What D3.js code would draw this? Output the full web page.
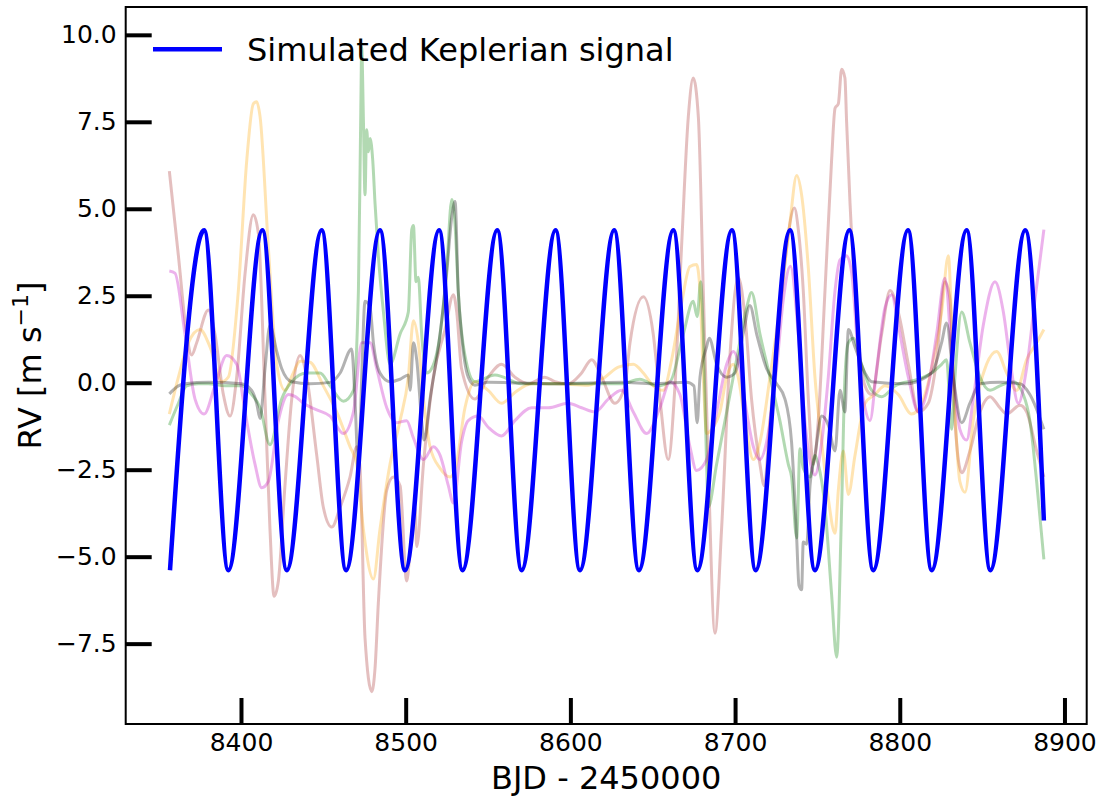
<!DOCTYPE html>
<html>
<head>
<meta charset="utf-8">
<script src="https://cdn.jsdelivr.net/npm/d3@7"></script>
<style>
  body { margin: 0; background: #fff; }
  text { font-family: "DejaVu Sans", sans-serif; }
</style>
</head>
<body>
<div id="rvchart"></div>
<script>
// ---- data (BJD - 2450000, RV in m/s) ----
var keplerDays = [8356.9, 8377.6, 8392.3, 8413.0, 8427.8, 8449.0, 8463.8, 8484.4, 8499.6, 8520.3,
                  8534.5, 8555.6, 8570.4, 8591.0, 8605.8, 8626.6, 8641.6, 8662.5, 8677.1, 8698.1,
                  8712.5, 8733.4, 8748.5, 8769.4, 8783.9, 8805.0, 8819.4, 8840.6, 8855.0, 8876.2, 8887.5];
var keplerRV = [-5.39, 4.38, -5.39, 4.38, -5.39, 4.38, -5.39, 4.38, -5.39, 4.38,
                -5.39, 4.38, -5.39, 4.38, -5.39, 4.38, -5.39, 4.38, -5.39, 4.38,
                -5.39, 4.38, -5.39, 4.38, -5.39, 4.38, -5.39, 4.38, -5.39, 4.38, -3.96];

var brownGP = [[8356.5,6.08],[8362.0,3.65],[8367.0,1.40],[8370.1,0.80],[8373.1,1.15],[8380.2,2.09],[8384.2,1.40],[8389.3,-0.34],[8393.4,-0.96],[8397.4,0.16],[8402.5,3.15],[8407.5,4.83],[8410.6,4.27],[8414.6,-0.47],[8417.6,-4.21],[8420.1,-6.14],[8422.7,-5.70],[8426.7,-2.96],[8430.8,-0.47],[8435.9,0.78],[8439.9,0.16],[8446.0,-2.09],[8450.0,-3.58],[8455.1,-4.15],[8460.2,-3.58],[8466.2,-2.71],[8470.3,-1.84],[8472.3,-2.46],[8475.3,-7.33],[8479.4,-8.88],[8481.4,-8.20],[8483.4,-6.33],[8488.5,-3.09],[8492.5,-2.71],[8496.6,-2.96],[8500.6,-5.70],[8502.7,-4.83],[8505.7,-3.58],[8506.7,-4.71],[8510.8,-2.34],[8516.8,0.16],[8523.9,1.53],[8529.0,2.53],[8531.0,2.03],[8533.9,0.41],[8542.0,-0.47],[8550.1,0.16],[8558.2,0.53],[8566.3,0.16],[8574.4,-0.03],[8584.5,0.16],[8590.6,0.03],[8598.7,-0.03],[8606.8,0.28],[8612.9,0.66],[8619.0,0.16],[8627.0,-0.59],[8633.1,-0.09],[8636.2,1.15],[8644.3,2.47],[8650.3,1.40],[8654.4,-0.47],[8659.4,-2.21],[8663.5,-0.09],[8667.5,3.90],[8671.6,7.64],[8674.6,8.76],[8677.7,7.64],[8680.7,2.65],[8683.7,-2.34],[8687.8,-7.20],[8691.8,-4.21],[8696.9,0.78],[8701.9,3.03],[8706.0,1.90],[8710.0,-0.47],[8715.1,-2.34],[8717.7,-2.96],[8721.2,-1.09],[8726.2,1.40],[8731.3,3.90],[8736.0,5.02],[8738.4,4.40],[8741.4,2.65],[8744.5,-0.47],[8747.5,-2.34],[8750.5,-1.09],[8754.6,2.65],[8758.6,6.39],[8760.7,7.89],[8762.7,8.02],[8764.7,9.01],[8766.7,8.76],[8767.7,7.52],[8769.8,5.15],[8772.8,2.65],[8775.8,0.78],[8778.9,-0.09],[8782.9,-0.34],[8789.0,1.40],[8794.1,2.65],[8799.1,2.03],[8805.2,0.53],[8811.3,-0.84],[8817.3,-0.59],[8822.4,0.66],[8827.4,2.90],[8830.5,2.40],[8833.5,-1.09],[8837.6,-2.59],[8842.6,-1.96],[8848.7,-0.84],[8854.8,-0.40],[8860.8,-0.72],[8864.9,-0.90],[8873.0,-0.65],[8877.0,-0.84],[8883.1,-1.96],[8887.5,-2.71]];

var orangeGP = [[8356.5,-0.90],[8362.0,0.16],[8368.1,1.15],[8375.1,1.53],[8381.2,1.03],[8388.3,0.03],[8392.3,0.16],[8398.4,2.65],[8403.5,6.39],[8407.5,8.02],[8409.5,8.08],[8411.6,7.64],[8416.6,3.90],[8421.7,0.53],[8426.7,-0.22],[8431.0,0.20],[8435.9,0.62],[8441.9,0.59],[8450.0,-0.09],[8458.1,-0.84],[8466.2,-1.84],[8470.3,-2.34],[8474.3,-4.21],[8480.4,-5.64],[8484.4,-4.21],[8490.5,-2.34],[8496.6,-1.09],[8501.6,0.16],[8504.7,1.78],[8507.7,1.15],[8510.8,-0.47],[8514.8,-1.84],[8520.9,-2.46],[8527.0,-2.71],[8530.5,-2.40],[8536.0,-0.72],[8542.0,0.03],[8550.1,-0.22],[8558.2,-0.59],[8566.3,-0.28],[8576.5,-0.03],[8590.6,-0.03],[8610.9,-0.07],[8621.0,0.16],[8629.1,0.45],[8638.2,0.53],[8644.3,0.28],[8650.3,-0.09],[8656.4,-0.22],[8661.5,0.66],[8667.5,2.28],[8672.6,3.34],[8676.6,3.40],[8678.7,2.65],[8680.7,0.16],[8682.7,-1.46],[8685.8,-1.34],[8690.8,-0.84],[8694.9,0.16],[8698.9,0.53],[8701.9,0.16],[8706.0,-1.09],[8711.1,-2.21],[8715.1,-1.71],[8721.2,0.16],[8727.2,2.20],[8733.3,4.60],[8737.4,5.96],[8740.4,5.40],[8744.5,3.28],[8748.5,0.16],[8752.6,-1.71],[8756.6,-3.33],[8760.7,-4.33],[8762.7,-3.09],[8765.7,-1.96],[8768.8,-3.21],[8772.8,-2.09],[8778.9,-0.59],[8784.9,-0.34],[8791.0,-0.09],[8799.1,-0.34],[8807.2,-0.90],[8813.3,-0.59],[8819.3,0.41],[8825.4,2.03],[8829.5,3.65],[8832.5,0.16],[8836.5,-2.84],[8839.6,-3.15],[8844.6,-1.09],[8852.7,0.53],[8858.8,0.90],[8864.9,0.28],[8870.9,-0.22],[8877.0,0.66],[8883.1,1.15],[8887.5,1.53]];

var greenGP = [[8356.5,-1.22],[8362.0,-0.59],[8367.0,-0.09],[8374.1,-0.03],[8380.2,-0.03],[8390.3,-0.09],[8400.4,-0.09],[8406.5,-0.34],[8411.6,-0.72],[8417.6,-1.78],[8424.7,-0.47],[8430.8,0.03],[8439.9,0.28],[8448.0,0.28],[8454.1,-0.09],[8462.2,-0.53],[8468.3,-0.22],[8471.3,2.65],[8472.7,7.64],[8473.3,9.64],[8474.3,7.64],[8475.3,5.40],[8476.3,7.27],[8477.4,6.64],[8478.4,7.02],[8480.0,6.39],[8481.4,5.15],[8483.4,3.65],[8486.5,2.03],[8490.5,0.53],[8496.6,1.40],[8501.6,2.03],[8503.7,4.40],[8504.7,4.52],[8506.3,2.90],[8507.7,3.03],[8509.7,1.40],[8512.8,0.28],[8515.8,0.41],[8520.9,1.40],[8524.9,3.28],[8528.0,5.27],[8530.0,4.52],[8531.9,2.65],[8536.0,0.78],[8542.0,0.03],[8554.2,0.22],[8570.4,-0.03],[8590.6,-0.03],[8610.9,-0.03],[8631.1,-0.03],[8642.2,0.10],[8652.4,-0.09],[8660.5,0.03],[8668.6,1.40],[8674.6,2.34],[8677.0,1.90],[8679.1,2.90],[8680.7,1.40],[8682.7,-2.34],[8683.7,-3.58],[8688.8,-2.34],[8694.9,-0.84],[8700.9,0.66],[8707.0,2.15],[8710.0,2.59],[8715.1,1.40],[8721.2,0.16],[8727.2,-1.09],[8732.3,-2.34],[8734.3,-2.71],[8737.4,-4.46],[8739.4,-1.90],[8741.4,-2.46],[8745.5,-2.71],[8748.5,-2.09],[8750.5,-2.34],[8754.6,-3.58],[8758.6,-6.08],[8761.7,-7.89],[8764.7,-3.58],[8766.7,0.16],[8768.8,1.15],[8771.8,1.28],[8776.8,0.53],[8782.9,-0.22],[8789.0,-0.40],[8797.1,-0.09],[8811.3,0.10],[8819.3,0.28],[8825.4,0.53],[8828.4,0.66],[8831.5,-1.34],[8833.5,0.16],[8837.6,2.03],[8842.6,1.15],[8848.7,0.16],[8854.8,-0.22],[8860.8,-0.09],[8868.9,0.03],[8875.0,-0.34],[8879.0,-1.09],[8883.1,-2.84],[8887.5,-5.08]];

var grayGP = [[8356.5,-0.32],[8362.0,-0.09],[8366.0,-0.03],[8380.2,0.01],[8400.4,-0.03],[8406.5,-0.22],[8409.5,-0.59],[8411.6,-1.03],[8414.6,0.41],[8417.6,1.65],[8421.7,0.90],[8424.7,0.41],[8430.8,0.03],[8441.9,-0.03],[8454.1,0.01],[8460.2,0.28],[8467.2,0.97],[8469.3,-0.59],[8471.3,-2.52],[8473.3,0.16],[8475.3,2.34],[8478.4,2.15],[8480.4,1.15],[8484.4,0.28],[8490.5,0.03],[8496.6,0.10],[8501.6,0.22],[8502.7,-0.22],[8504.7,1.15],[8506.7,0.66],[8509.7,-1.09],[8511.2,-1.65],[8514.8,-0.47],[8520.9,1.40],[8524.9,3.15],[8528.0,4.77],[8530.0,5.21],[8531.9,2.65],[8533.9,1.40],[8538.0,0.16],[8542.0,-0.07],[8550.1,0.01],[8590.6,-0.03],[8631.1,0.01],[8650.3,-0.03],[8670.6,0.01],[8675.0,-0.09],[8677.0,-1.15],[8678.7,0.16],[8682.7,1.03],[8684.3,1.28],[8688.8,0.53],[8694.9,0.16],[8699.9,0.28],[8704.9,1.40],[8709.0,2.22],[8713.1,1.40],[8719.1,0.41],[8725.2,-0.03],[8730.3,-0.47],[8734.3,-1.71],[8737.4,-4.46],[8738.8,-5.83],[8740.4,-5.95],[8741.4,-4.58],[8743.5,-4.64],[8745.5,-2.96],[8748.5,-2.09],[8752.6,-0.96],[8756.6,-1.22],[8760.7,-1.96],[8763.7,-0.22],[8766.7,-0.84],[8768.8,1.53],[8772.8,1.03],[8778.9,0.28],[8782.9,0.03],[8803.2,-0.03],[8819.3,0.28],[8825.4,1.15],[8828.4,1.72],[8832.5,0.16],[8837.6,-1.15],[8842.6,-0.59],[8848.7,-0.03],[8860.8,0.01],[8873.0,-0.03],[8879.0,-0.34],[8887.5,-1.34]];

var violetGP = [[8356.5,3.21],[8359.9,3.15],[8366.0,1.40],[8372.1,-0.47],[8377.6,-0.90],[8384.2,-0.09],[8391.3,0.78],[8397.4,0.53],[8402.5,-0.84],[8408.5,-2.34],[8412.6,-3.02],[8416.6,-2.84],[8422.7,-1.09],[8428.8,-0.34],[8433.0,-0.40],[8437.9,-0.59],[8446.0,-0.78],[8454.1,-0.96],[8462.2,-1.46],[8468.3,-0.84],[8473.3,1.15],[8478.4,1.15],[8482.4,0.41],[8488.5,-0.72],[8494.6,-1.15],[8500.6,-1.09],[8504.7,-1.59],[8510.8,-2.21],[8516.8,-1.84],[8520.9,-2.09],[8525.9,-2.96],[8529.0,-3.46],[8533.9,-1.71],[8538.0,-1.09],[8544.1,-0.96],[8550.1,-1.28],[8558.2,-1.53],[8566.3,-1.09],[8576.5,-0.72],[8586.6,-0.72],[8598.7,-0.59],[8606.8,-0.72],[8614.9,-0.84],[8623.0,-0.47],[8631.1,-0.22],[8638.2,-0.84],[8646.3,-1.46],[8654.4,-0.72],[8660.5,0.03],[8666.5,-0.34],[8672.6,-1.84],[8676.6,-2.52],[8682.7,-2.21],[8688.8,-0.84],[8694.9,0.53],[8698.9,0.90],[8702.9,0.41],[8707.0,-0.84],[8711.1,-1.84],[8715.1,-2.21],[8719.1,-1.71],[8725.2,0.41],[8729.3,2.40],[8733.6,3.35],[8738.4,1.40],[8742.4,-1.09],[8746.5,-2.46],[8748.5,-2.65],[8752.6,-1.71],[8756.6,0.16],[8760.7,2.65],[8763.7,3.53],[8767.7,3.65],[8770.8,3.15],[8774.8,0.78],[8778.9,-0.72],[8781.9,-1.09],[8786.0,0.41],[8791.0,2.15],[8795.1,2.53],[8799.1,1.65],[8805.2,0.16],[8811.3,-0.84],[8817.3,-0.09],[8822.4,1.40],[8827.4,3.00],[8832.5,0.16],[8836.5,-1.34],[8840.6,-1.65],[8844.6,-0.47],[8850.7,1.65],[8857.8,2.90],[8862.9,2.03],[8866.9,0.66],[8872.0,-0.59],[8877.0,0.41],[8882.1,2.40],[8887.5,4.40]];

var xTicks = [8400, 8500, 8600, 8700, 8800, 8900];
var yTicks = [-7.5, -5.0, -2.5, 0.0, 2.5, 5.0, 7.5, 10.0];

var gpSeries = [
    {name: "brown",  color: "#a52a2a", values: brownGP},
    {name: "orange", color: "#ffa500", values: orangeGP},
    {name: "green",  color: "#008000", values: greenGP},
    {name: "violet", color: "#bf00bf", values: violetGP},
    {name: "gray",   color: "#000000", values: grayGP}
];

var full_w = 1102, full_h = 798;
var margin = {'top': 7, 'right': 15.3, 'bottom': 74, 'left': 125.7};
var width = full_w - margin.left - margin.right;
var height = full_h - margin.top - margin.bottom;

var svg = d3.select("#rvchart")
            .append("svg")
            .attr("width", full_w)
            .attr("height", full_h)
            .append("g")
            .attr("transform", "translate(" + margin.left + "," + margin.top + ")");

var x = d3.scaleLinear().domain([8330, 8913.5]).range([0, width]);
var y = d3.scaleLinear().domain([-9.81, 10.8]).range([height, 0]);

var line = d3.line()
             .x(d => x(d[0]))
             .y(d => y(d[1]))
             .curve(d3.curveMonotoneX);

svg.append("defs").append("clipPath").attr("id", "plotclip")
   .append("rect").attr("width", width).attr("height", height);

var plot = svg.append("g").attr("clip-path", "url(#plotclip)");

// faint GP curves
gpSeries.forEach(s => {
    plot.append("path")
        .datum(s.values)
        .attr("fill", "none")
        .attr("stroke", s.color)
        .attr("stroke-opacity", 0.3)
        .attr("stroke-width", 3)
        .attr("stroke-linejoin", "round")
        .attr("d", line);
});

// keplerian signal
var kepler = keplerDays.map((d, i) => [d, keplerRV[i]]);
plot.append("path")
    .datum(kepler)
    .attr("fill", "none")
    .attr("stroke", "#0000ff")
    .attr("stroke-width", 4.5)
    .attr("d", line);

// axes, ticks inward
var xAxis = d3.axisBottom(x).tickValues(xTicks).tickFormat(d3.format("d"))
              .tickSizeInner(-26).tickSizeOuter(0).tickPadding(9);
var yAxis = d3.axisLeft(y).tickValues(yTicks).tickFormat(d3.format(".1f"))
              .tickSizeInner(-26).tickSizeOuter(0).tickPadding(9);

var gx = svg.append("g").attr("transform", "translate(0," + height + ")").call(xAxis);
var gy = svg.append("g").call(yAxis);

[gx, gy].forEach(g => {
    g.select(".domain").remove();
    g.selectAll(".tick line").attr("stroke", "#000").attr("stroke-width", 4);
    g.selectAll(".tick text").attr("fill", "#000")
     .style("font-family", "'DejaVu Sans', sans-serif").style("font-size", "25px");
});

svg.append("rect")
   .attr("width", width).attr("height", height)
   .attr("fill", "none").attr("stroke", "#000").attr("stroke-width", 2);

// axis labels
svg.append("text")
   .attr("x", width / 2).attr("y", 789 - margin.top)
   .attr("text-anchor", "middle")
   .style("font-size", "32px")
   .text("BJD - 2450000");

var ylab = svg.append("text")
   .attr("transform", "translate(" + (41 - margin.left) + "," + (height / 2) + ") rotate(-90)")
   .attr("text-anchor", "middle")
   .style("font-size", "32px");
ylab.append("tspan").text("RV [m s");
ylab.append("tspan").attr("dy", -13).style("font-size", "22px").text("\u22121");
ylab.append("tspan").attr("dy", 13).text("]");

// legend (no frame)
var leg = svg.append("g");
leg.append("line")
   .attr("x1", 153 - margin.left).attr("x2", 222 - margin.left)
   .attr("y1", 49.3 - margin.top).attr("y2", 49.3 - margin.top)
   .attr("stroke", "#0000ff").attr("stroke-width", 4.5);
leg.append("text")
   .attr("x", 247 - margin.left).attr("y", 61 - margin.top)
   .style("font-size", "32px")
   .text("Simulated Keplerian signal");
</script>
</body>
</html>
